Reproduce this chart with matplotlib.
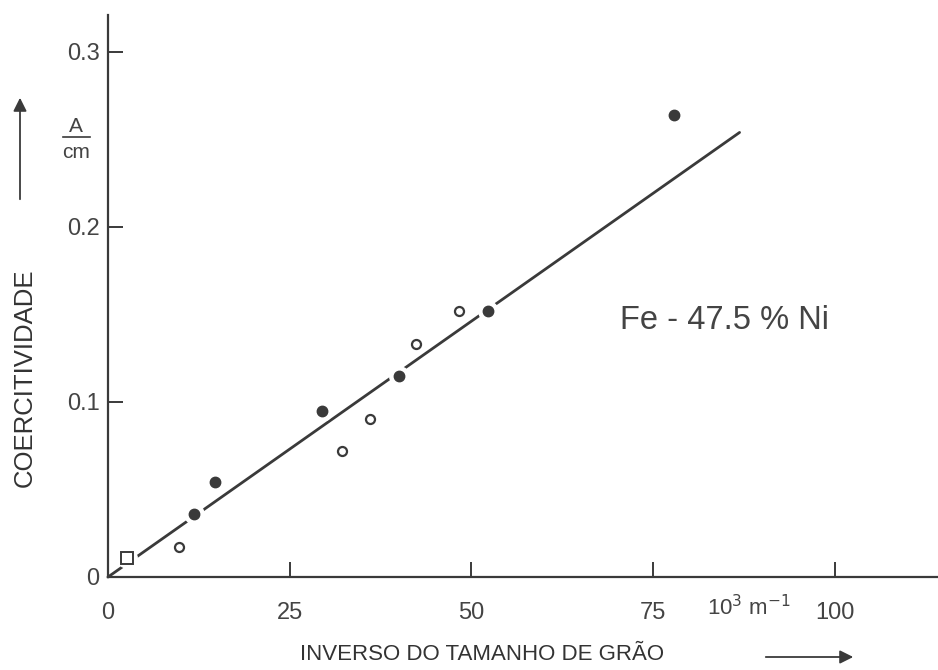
import matplotlib.pyplot as plt

# data
filled_x = [11.8, 14.7, 29.4, 40.0, 52.3, 77.9]
filled_y = [0.036, 0.054, 0.095, 0.115, 0.152, 0.264]
open_x = [9.8, 32.2, 36.0, 42.4, 48.3]
open_y = [0.017, 0.072, 0.090, 0.133, 0.152]
square_x = [2.6]
square_y = [0.011]
fit_x = [0, 86.9]
fit_y = [0, 0.254]

xticks = [0, 25, 50, 75, 100]
xtick_labels = ["0", "25", "50", "75", "100"]
yticks = [0.1, 0.2, 0.3]
ytick_labels = ["0.1", "0.2", "0.3"]

INK = "#3a3a3a"
TXT = "#444444"
plt.rcParams["font.family"] = ["Liberation Sans", "DejaVu Sans"]

fig = plt.figure(figsize=(9.38, 6.70), dpi=100)
ax = fig.add_axes([108 / 938, 93 / 670, 830 / 938, 562 / 670])
ax.set_xlim(0, 114.2)
ax.set_ylim(0, 0.3211)

for side in ("top", "right"):
    ax.spines[side].set_visible(False)
for side in ("left", "bottom"):
    ax.spines[side].set_color(INK)
    ax.spines[side].set_linewidth(1.6)

ax.set_xticks(xticks)
ax.set_xticklabels(xtick_labels)
ax.set_yticks(yticks)
ax.set_yticklabels(ytick_labels)
ax.tick_params(axis="both", direction="in", length=11, width=1.4, colors=INK,
               labelsize=17, labelcolor=TXT)
ax.tick_params(axis="x", pad=18)
ax.tick_params(axis="y", pad=6)

# fitted line, broken around some markers
ax.plot(fit_x, fit_y, color=INK, lw=2.0, solid_capstyle="round", zorder=2, clip_on=False)
ax.plot(filled_x + square_x, filled_y + square_y, "o", ms=14, color="white", zorder=3, clip_on=False)

ax.plot(filled_x, filled_y, "o", ms=7.5, color=INK, zorder=4, clip_on=False)
ax.plot(open_x, open_y, "o", ms=6.5, mfc="white", mec=INK, mew=1.6, zorder=4)
ax.plot(square_x, square_y, "s", ms=8.5, mfc="white", mec=INK, mew=1.4, zorder=4)

# zero of the y axis
fig.text(93 / 938, 1 - 579 / 670, "0", fontsize=17, color=TXT, ha="center", va="center")

fig.text(749 / 938, 1 - 608 / 670, r"10$^{3}$ m$^{-1}$", fontsize=16, color=TXT,
         ha="center", va="center")

fig.text(482 / 938, 1 - 655 / 670, "INVERSO DO TAMANHO DE GRÃO", fontsize=16,
         color="#333333", ha="center", va="center")
fig.text(25 / 938, 1 - 378 / 670, "COERCITIVIDADE", fontsize=18.5, color="#333333",
         rotation=90, ha="center", va="center")

# A / cm unit
fig.text(76 / 938, 1 - 126 / 670, "A", fontsize=15, color=TXT, ha="center", va="center")
fig.text(76 / 938, 1 - 153 / 670, "cm", fontsize=15, color=TXT, ha="center", va="center")
fig.add_artist(plt.Line2D([63 / 938, 90 / 938], [1 - 137 / 670, 1 - 137 / 670],
                          color=INK, lw=1.2))

# axis arrows
ax.annotate("", xy=(20 / 938, 1 - 95 / 670), xytext=(20 / 938, 1 - 202 / 670),
            xycoords="figure fraction", textcoords="figure fraction",
            arrowprops=dict(arrowstyle="-|>", color=INK, lw=1.3, mutation_scale=20))
ax.annotate("", xy=(856 / 938, 1 - 657 / 670), xytext=(763 / 938, 1 - 657 / 670),
            xycoords="figure fraction", textcoords="figure fraction",
            arrowprops=dict(arrowstyle="-|>", color=INK, lw=1.3, mutation_scale=20))

ax.text(0.617, 0.457, "Fe - 47.5 % Ni", transform=ax.transAxes, fontsize=23.5,
        color=TXT, ha="left", va="center")

fig.savefig("out.png", dpi=100)
